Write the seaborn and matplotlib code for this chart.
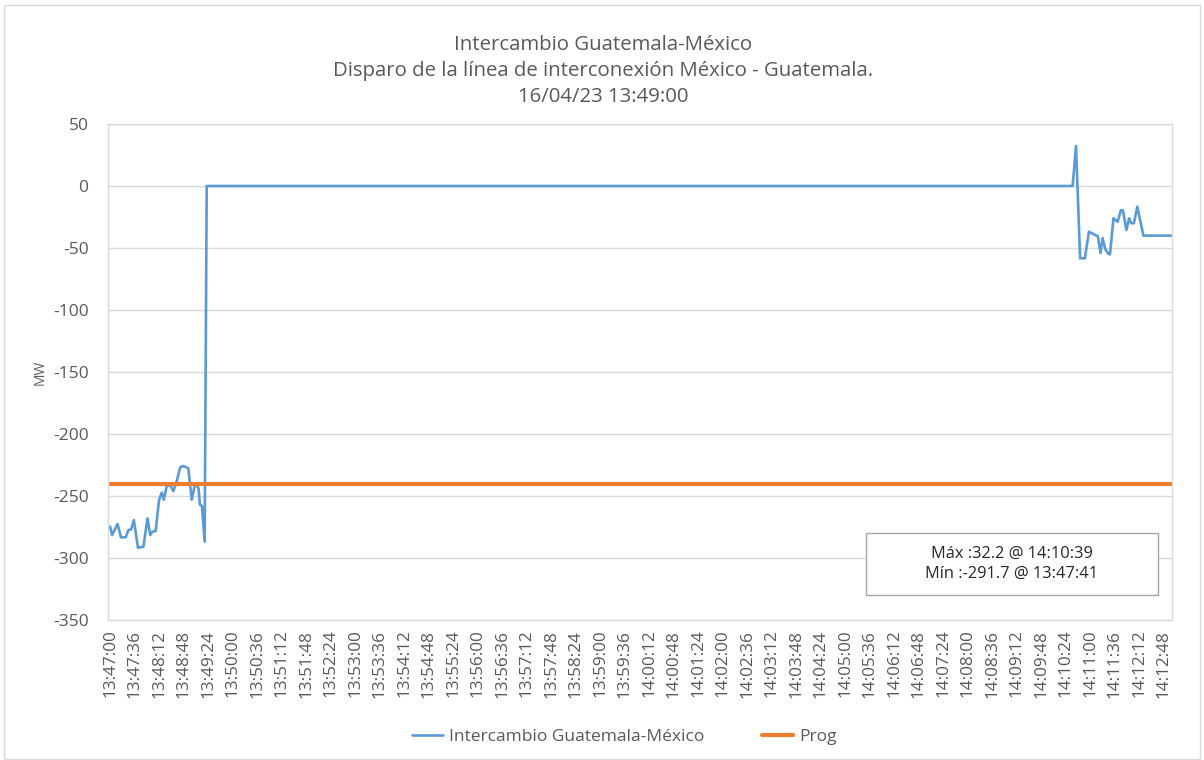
import pandas as pd
import seaborn as sns
import matplotlib.pyplot as plt
from matplotlib.patches import Rectangle

# seconds after 13:47:00 and MW values
t_sec = [0, 3, 11, 16, 23, 27, 31, 35, 41, 49, 55, 59, 62, 67, 72, 76, 79, 83, 88, 93,
         98, 103, 108, 115, 120, 125, 130, 132, 135, 139, 142,
         1414, 1419, 1425, 1432, 1438, 1447, 1451, 1455, 1458, 1462, 1467, 1469, 1474,
         1480, 1485, 1488, 1493, 1497, 1500, 1504, 1509, 1518, 1560]
mw = [-274.7, -281.5, -272.6, -283.3, -283.3, -277.4, -276.9, -269.4, -291.7, -290.9,
      -268.0, -281.5, -278.8, -278.2, -253.2, -247.3, -253.0, -242.5, -241.0, -246.0,
      -238.0, -226.9, -225.8, -227.7, -253.0, -239.8, -243.8, -257.0, -258.0, -286.8, 0.0,
      0.0, 32.2, -58.3, -58.3, -36.8, -39.5, -40.5, -54.0, -42.0, -51.0, -55.0, -55.0, -26.0,
      -28.8, -19.4, -19.9, -35.5, -26.0, -30.0, -30.0, -16.7, -40.0, -40.0]
prog_value = -240

tick_step = 36
tick_count = 44

data = pd.DataFrame({'t': t_sec, 'mw': mw})
prog = pd.DataFrame({'t': [t_sec[0], t_sec[-1]], 'mw': [prog_value, prog_value]})

def hms(s):
    s = int(s) + 13 * 3600 + 47 * 60
    return '%02d:%02d:%02d' % (s // 3600, (s % 3600) // 60, s % 60)

sns.set_style("white")
plt.rcParams['font.family'] = ['Open Sans', 'DejaVu Sans']
plt.rcParams['axes.unicode_minus'] = False
grey = '#595959'

fig = plt.figure(figsize=(12.04, 7.6), dpi=100)
ax = fig.add_axes([108 / 1204, 1 - 620 / 760, (1172 - 108) / 1204, (620 - 124) / 760])

sns.lineplot(x='t', y='mw', data=data, ax=ax, color='#5B9BD5', linewidth=1.9,
             label='Intercambio Guatemala-México')
sns.lineplot(x='t', y='mw', data=prog, ax=ax, color='#ED7D31', linewidth=3,
             label='Prog')

ax.set_xlim(-3, 1560)
ax.set_ylim(-350, 50)
ax.set_yticks(range(-350, 51, 50))
ticks = [i * tick_step for i in range(tick_count)]
ax.set_xticks(ticks)
ax.set_xticklabels([hms(s) for s in ticks], rotation=90, fontsize=12.3, color=grey)
ax.tick_params(axis='y', labelsize=12.5, labelcolor=grey, length=0, pad=14)
ax.tick_params(axis='x', length=4, color='#d9d9d9', pad=3)
ax.yaxis.grid(True, color='#d9d9d9', linewidth=1)
ax.xaxis.grid(False)
for s in ax.spines.values():
    s.set_color('#d9d9d9')
    s.set_linewidth(1)
ax.set_xlabel('')
ax.set_ylabel('MW', fontsize=10, color=grey, labelpad=4)

fig.text(603 / 1204, 1 - 71 / 760,
         'Intercambio Guatemala-México\nDisparo de la línea de interconexión México - Guatemala.\n16/04/23 13:49:00',
         ha='center', va='center', fontsize=14.7, color=grey, linespacing=1.42)

# stats box
ax.add_patch(Rectangle((0.7124, 0.0504), 0.2744, 0.125, transform=ax.transAxes,
                       facecolor='white', edgecolor='#a6a6a6', linewidth=1, zorder=5))
ax.text(0.8496, 0.1129, 'Máx :32.2 @ 14:10:39\nMín :-291.7 @ 13:47:41', transform=ax.transAxes,
        ha='center', va='center', fontsize=11.8, color='#262626', linespacing=1.35, zorder=6)

leg = ax.legend(loc='center', bbox_to_anchor=(624 / 1204, 1 - 737 / 760), bbox_transform=fig.transFigure,
                ncol=2, frameon=False, fontsize=12.5, handlelength=1.8, handletextpad=0.35,
                columnspacing=3.3)
for txt in leg.get_texts():
    txt.set_color(grey)

fig.patches.append(Rectangle((4 / 1204, 1 / 760), 1196 / 1204, 754 / 760, transform=fig.transFigure,
                             fill=False, edgecolor='#d9d9d9', linewidth=1))

plt.savefig('out.png', dpi=100)
